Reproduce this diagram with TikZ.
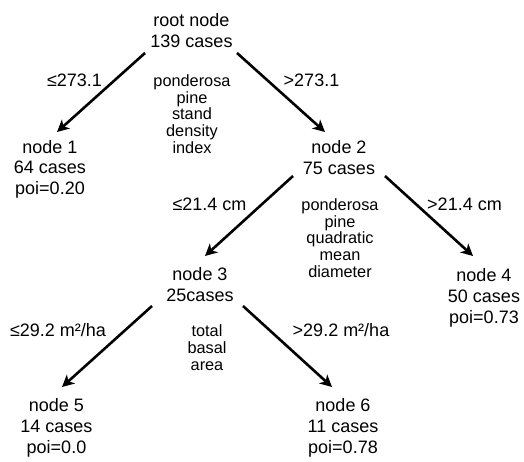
\documentclass[tikz,border=0pt]{standalone}
\usepackage{fontspec}
\setmainfont{Liberation Sans}
\usetikzlibrary{arrows.meta}
\tikzset{
  treenode/.style={align=center, inner sep=0pt, anchor=base,
    font=\fontsize{18}{20.7}\selectfont},
  edgelabel/.style={inner sep=0pt, anchor=base,
    font=\fontsize{18}{20}\selectfont},
  splitvar/.style={align=center, inner sep=0pt, anchor=base,
    font=\fontsize{16.3}{16.6}\selectfont},
  arr/.style={line width=2.6pt, -{Stealth[length=12pt,width=12pt,inset=3.5pt]}}
}
\begin{document}
\begin{tikzpicture}[x=1pt,y=-1pt]
\useasboundingbox (0,0) rectangle (524,461);
% nodes (anchor = baseline of the last line)
\node[treenode] (root) at (191.5,47) {root node\\139 cases};
\node[treenode] (n1) at (50,194.5) {node 1\\64 cases\\poi=0.20};
\node[treenode] (n2) at (339,174) {node 2\\75 cases};
\node[treenode] (n3) at (200,301) {node 3\\25cases};
\node[treenode] (n4) at (484,323) {node 4\\50 cases\\poi=0.73};
\node[treenode] (n5) at (56.5,453) {node 5\\14 cases\\poi=0.0};
\node[treenode] (n6) at (343,453) {node 6\\11 cases\\poi=0.78};
% split variable labels
\node[splitvar] (v1) at (192,153) {ponderosa\\pine\\stand\\density\\index};
\node[splitvar] (v2) at (340,277) {ponderosa\\pine\\quadratic\\mean\\diameter};
\node[splitvar] (v3) at (207,370) {total\\basal\\area};
% edge labels
\node[edgelabel] (l1) at (74.5,86) {≤273.1};
\node[edgelabel] (r1) at (311.5,86) {>273.1};
\node[edgelabel] (l2) at (209.5,210) {≤21.4 cm};
\node[edgelabel] (r2) at (464.5,210) {>21.4 cm};
\node[edgelabel] (l3) at (58,336) {≤29.2 m²/ha};
\node[edgelabel] (r3) at (341,336) {>29.2 m²/ha};
% connector end points
\coordinate (rootL) at (145,53);  \coordinate (n1t) at (57,132);
\coordinate (rootR) at (237,53);  \coordinate (n2t) at (325,132);
\coordinate (n2L) at (293,176);   \coordinate (n3t) at (205,256);
\coordinate (n2R) at (385,176);   \coordinate (n4t) at (473,256);
\coordinate (n3L) at (152,306);   \coordinate (n5t) at (62,387);
\coordinate (n3R) at (243,306);   \coordinate (n6t) at (332,387);
% connectors
\draw[arr] (rootL) -- (n1t);
\draw[arr] (rootR) -- (n2t);
\draw[arr] (n2L) -- (n3t);
\draw[arr] (n2R) -- (n4t);
\draw[arr] (n3L) -- (n5t);
\draw[arr] (n3R) -- (n6t);
\end{tikzpicture}
\end{document}
